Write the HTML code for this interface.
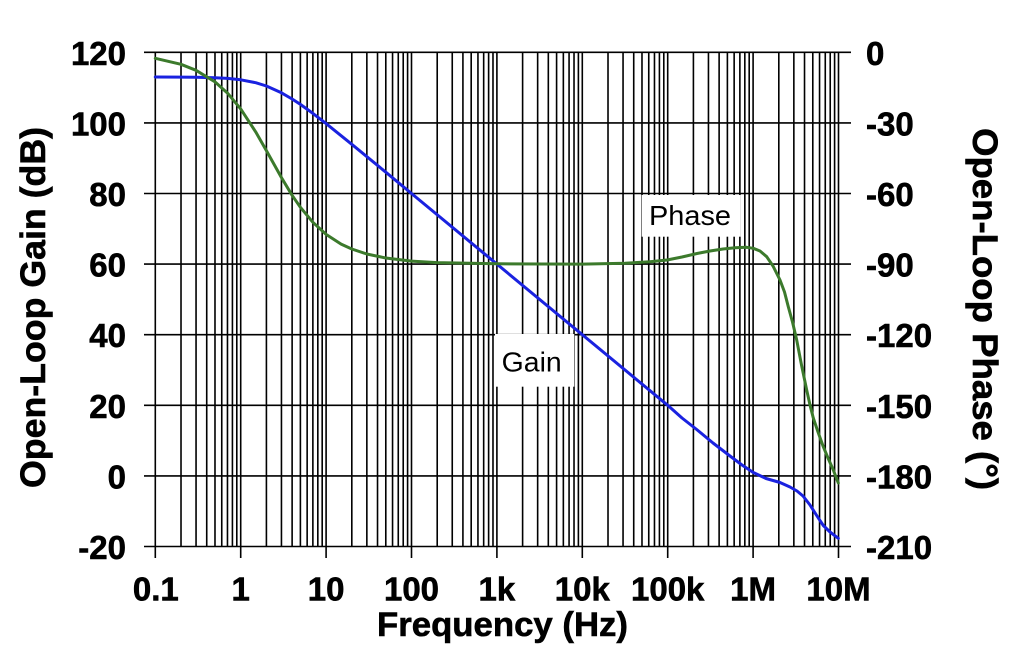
<!DOCTYPE html>
<html>
<head>
<meta charset="utf-8">
<style>
html,body{margin:0;padding:0;background:#fff;}
svg{display:block;}
text{font-family:"Liberation Sans",Arial,sans-serif;fill:#000;}
.tk{font-size:33px;font-weight:bold;stroke:#000;stroke-width:0.6px;}
.tt{font-weight:bold;stroke:#000;stroke-width:0.6px;}
</style>
</head>
<body>
<svg width="1024" height="665" viewBox="0 0 1024 665" xmlns="http://www.w3.org/2000/svg">
<rect width="1024" height="665" fill="#fff"/>
<defs>
<g id="dec" stroke="#000" stroke-width="1.6">
<line x1="25.71" y1="52.3" x2="25.71" y2="546.5"/>
<line x1="40.75" y1="52.3" x2="40.75" y2="546.5"/>
<line x1="51.42" y1="52.3" x2="51.42" y2="546.5"/>
<line x1="59.69" y1="52.3" x2="59.69" y2="546.5"/>
<line x1="66.45" y1="52.3" x2="66.45" y2="546.5"/>
<line x1="72.17" y1="52.3" x2="72.17" y2="546.5"/>
<line x1="77.12" y1="52.3" x2="77.12" y2="546.5"/>
<line x1="81.49" y1="52.3" x2="81.49" y2="546.5"/>
</g>
</defs>
<use href="#dec" x="155.3"/>
<use href="#dec" x="240.7"/>
<use href="#dec" x="326.1"/>
<use href="#dec" x="411.5"/>
<use href="#dec" x="496.9"/>
<use href="#dec" x="582.3"/>
<use href="#dec" x="667.7"/>
<use href="#dec" x="753.1"/>
<g stroke="#000" stroke-width="1.6">
<line x1="155.3" y1="52.3" x2="155.3" y2="558"/>
<line x1="240.7" y1="52.3" x2="240.7" y2="558"/>
<line x1="326.1" y1="52.3" x2="326.1" y2="558"/>
<line x1="411.5" y1="52.3" x2="411.5" y2="558"/>
<line x1="496.9" y1="52.3" x2="496.9" y2="558"/>
<line x1="582.3" y1="52.3" x2="582.3" y2="558"/>
<line x1="667.7" y1="52.3" x2="667.7" y2="558"/>
<line x1="753.1" y1="52.3" x2="753.1" y2="558"/>
<line x1="838.5" y1="52.3" x2="838.5" y2="558"/>
<line x1="144" y1="52.3" x2="851" y2="52.3"/>
<line x1="144" y1="122.9" x2="851" y2="122.9"/>
<line x1="144" y1="193.5" x2="851" y2="193.5"/>
<line x1="144" y1="264.1" x2="851" y2="264.1"/>
<line x1="144" y1="334.7" x2="851" y2="334.7"/>
<line x1="144" y1="405.3" x2="851" y2="405.3"/>
<line x1="144" y1="475.9" x2="851" y2="475.9"/>
<line x1="144" y1="546.5" x2="851" y2="546.5"/>
</g>
<rect x="641.7" y="195" width="99" height="41.7" fill="#fff"/>
<rect x="495" y="334" width="79.3" height="52.7" fill="#fff"/>
<text x="649" y="225" font-size="28" textLength="82" lengthAdjust="spacingAndGlyphs">Phase</text>
<text x="501.7" y="371.7" font-size="28" textLength="60" lengthAdjust="spacingAndGlyphs">Gain</text>
<polyline fill="none" stroke="#1a22e0" stroke-width="3" stroke-linejoin="round" stroke-linecap="round"
points="155.3,77.0 181.0,77.1 196.0,77.3 215.0,77.8 227.5,78.4 240.7,79.8 255.7,82.7 266.4,86.0 281.4,92.8 292.1,99.0 300.4,104.4 312.9,113.4 326.1,123.6 351.8,144.3 385.8,172.2 411.5,193.5 667.7,405.3 682,418 696.7,429.5 713,443 730,456 742,465 753.3,472.5 766,478.5 780,482.5 790,487 797,491 803,496 810,505 817,516 823.3,525.5 830,532 838.3,538.3"/>
<polyline fill="none" stroke="#3c7a2c" stroke-width="3" stroke-linejoin="round" stroke-linecap="round"
points="155.3,58.3 181.0,64.3 196.0,70.3 215.0,81.9 227.5,93.1 240.7,108.9 255.7,131.9 266.4,150.6 281.4,177.5 292.1,195.3 300.4,207.3 312.9,222.3 326.1,234.4 341.1,244.1 351.8,249.0 366.8,254.0 385.8,258.0 411.5,261.1 437.2,262.6 496.9,263.8 582.3,264.1 625,263.2 650,261.8 667,260 682,257 697,253.5 710,251 723,249 735,247.8 746.7,247.3 753.3,248.3 760,251 766.7,256.7 773,266 780,280 784.5,292 788.3,306.7 792.5,322 796.7,340 801.5,365 806.7,390 810,405 813.3,418 818,432 823.3,446.7 828,458 833.3,470 838.3,483"/>
<g class="tk" text-anchor="end">
<text x="126" y="64.8">120</text>
<text x="126" y="135.4">100</text>
<text x="126" y="206">80</text>
<text x="126" y="276.6">60</text>
<text x="126" y="347.2">40</text>
<text x="126" y="417.8">20</text>
<text x="126" y="488.4">0</text>
<text x="126" y="559">-20</text>
</g>
<g class="tk" text-anchor="start">
<text x="866" y="64.8">0</text>
<text x="866" y="135.4">-30</text>
<text x="866" y="206">-60</text>
<text x="866" y="276.6">-90</text>
<text x="866" y="347.2">-120</text>
<text x="866" y="417.8">-150</text>
<text x="866" y="488.4">-180</text>
<text x="866" y="559">-210</text>
</g>
<g class="tk" text-anchor="middle">
<text x="155.8" y="600.5">0.1</text>
<text x="240.7" y="600.5">1</text>
<text x="326.1" y="600.5">10</text>
<text x="411.5" y="600.5">100</text>
<text x="496.9" y="600.5">1k</text>
<text x="582.3" y="600.5">10k</text>
<text x="667.7" y="600.5">100k</text>
<text x="753.1" y="600.5">1M</text>
<text x="838.5" y="600.5">10M</text>
</g>
<text class="tt" x="377" y="636" font-size="34" textLength="251" lengthAdjust="spacingAndGlyphs">Frequency (Hz)</text>
<text class="tt" transform="translate(45,488) rotate(-90)" x="0" y="0" font-size="35" textLength="361" lengthAdjust="spacingAndGlyphs">Open-Loop Gain (dB)</text>
<text class="tt" transform="translate(973,128) rotate(90)" x="0" y="0" font-size="35" textLength="362" lengthAdjust="spacingAndGlyphs">Open-Loop Phase (°)</text>
</svg>
</body>
</html>
